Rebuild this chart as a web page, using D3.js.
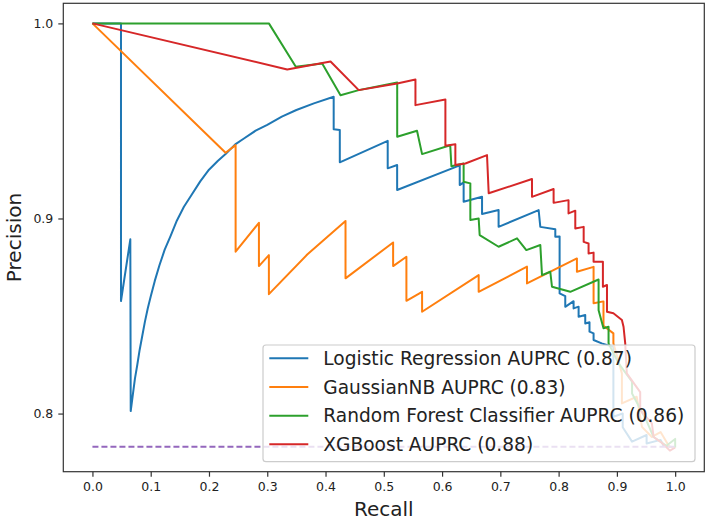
<!DOCTYPE html>
<html>
<head>
<meta charset="utf-8">
<script src="https://cdn.jsdelivr.net/npm/d3@7"></script>
<style>
  html, body { margin: 0; padding: 0; background: #fff; }
  svg { display: block; font-family: "DejaVu Sans", sans-serif; }
</style>
</head>
<body>
<svg id="chart" width="709" height="522"></svg>
<script>
// ---------------- data ----------------
const seriesNames = [
  "Logistic Regression AUPRC (0.87)",
  "GaussianNB AUPRC (0.83)",
  "Random Forest Classifier AUPRC (0.86)",
  "XGBoost AUPRC (0.88)"
];
const xTicks = [0.0, 0.1, 0.2, 0.3, 0.4, 0.5, 0.6, 0.7, 0.8, 0.9, 1.0];
const yTicks = [0.8, 0.9, 1.0];
const baselinePrecision = 0.783;

const lrRecall = [0, 0.049, 0.049, 0.065, 0.0657, 0.069, 0.073, 0.077, 0.081, 0.085, 0.09, 0.095, 0.1, 0.107, 0.115, 0.124, 0.134, 0.145, 0.157, 0.17, 0.185, 0.2, 0.215, 0.2285, 0.245, 0.26, 0.28, 0.3, 0.325, 0.35, 0.38, 0.414,
  0.414, 0.4245, 0.4245, 0.5067, 0.5067, 0.5229, 0.5229, 0.6303, 0.6303, 0.637, 0.637, 0.6686, 0.6686, 0.697, 0.697, 0.7657, 0.7686, 0.7943, 0.7943, 0.8017, 0.8017,
  0.8114, 0.8114, 0.8257, 0.8257, 0.8343, 0.8343, 0.8457, 0.8457, 0.853, 0.853, 0.86, 0.86, 0.874, 0.894, 0.894, 0.91, 0.91, 0.926, 0.951, 0.951, 0.975, 0.98, 1.0];
const lrPrecision = [1.0, 1.0, 0.8577, 0.8893, 0.8013, 0.809, 0.818, 0.825, 0.8326, 0.839, 0.847, 0.854, 0.86, 0.868, 0.876, 0.884, 0.891, 0.899, 0.906, 0.912, 0.919, 0.925, 0.9295, 0.933, 0.938, 0.941, 0.945, 0.948, 0.9522, 0.9556, 0.959, 0.9624,
  0.9457, 0.9453, 0.9288, 0.9398, 0.9257, 0.9274, 0.9146, 0.9272, 0.9171, 0.9185, 0.9086, 0.9111, 0.9023, 0.9043, 0.8957, 0.9043, 0.8957, 0.8945, 0.8906, 0.8908, 0.8616,
  0.8602, 0.8547, 0.8576, 0.8539, 0.8548, 0.8496, 0.8505, 0.8462, 0.8468, 0.842, 0.8411, 0.8377, 0.836, 0.8342, 0.7984, 0.8, 0.793, 0.7856, 0.789, 0.7847, 0.7865, 0.7835, 0.7826];

const nbRecall = [0, 0.2285, 0.2457, 0.2457, 0.2857, 0.2857, 0.3028, 0.3028, 0.3686, 0.4343, 0.4343, 0.516, 0.516, 0.5388, 0.5388, 0.5657, 0.5657, 0.6628, 0.6628,
  0.7457, 0.7457, 0.8314, 0.8314, 0.86, 0.86, 0.877, 0.877, 0.894, 0.894, 0.9086, 0.9086, 0.934, 0.943, 0.96, 0.975, 0.99, 1.0];
const nbPrecision = [1.0, 0.9337, 0.9376, 0.883, 0.8978, 0.8756, 0.8812, 0.8612, 0.8815, 0.8987, 0.8693, 0.8877, 0.8756, 0.8804, 0.8578, 0.8624, 0.8522, 0.871, 0.8624,
  0.8753, 0.8667, 0.8795, 0.8727, 0.8752, 0.8565, 0.8575, 0.845, 0.8411, 0.836, 0.8206, 0.8052, 0.8086, 0.7932, 0.788, 0.7905, 0.783, 0.7826];

const rfRecall = [0, 0.3028, 0.349, 0.3943, 0.4257, 0.457, 0.523, 0.523, 0.557, 0.5657, 0.614, 0.616, 0.637, 0.637, 0.6485, 0.6485, 0.6628, 0.6645, 0.697, 0.7286,
  0.7446, 0.7686, 0.7715, 0.7857, 0.7886, 0.82, 0.8686, 0.8686, 0.877, 0.8857, 0.8857, 0.903, 0.926, 0.926, 0.949, 0.963, 0.985, 1.0, 1.0];
const rfPrecision = [1.0, 1.0, 0.9778, 0.9795, 0.9632, 0.9658, 0.9697, 0.9419, 0.945, 0.933, 0.9375, 0.9268, 0.9282, 0.9188, 0.918, 0.8992, 0.9, 0.8915, 0.8855, 0.8898,
  0.8838, 0.8864, 0.871, 0.8727, 0.865, 0.8624, 0.8687, 0.853, 0.8437, 0.8445, 0.836, 0.8257, 0.8163, 0.8103, 0.7975, 0.788, 0.7835, 0.787, 0.7826];

const xgbRecall = [0, 0.3343, 0.4086, 0.457, 0.523, 0.5543, 0.5543, 0.6057, 0.6057, 0.6228, 0.6228, 0.64, 0.6771, 0.68, 0.7543, 0.7543, 0.7914, 0.7914, 0.817, 0.817,
  0.8286, 0.8286, 0.843, 0.843, 0.8514, 0.8514, 0.86, 0.86, 0.876, 0.876, 0.883, 0.883, 0.894, 0.9086, 0.9114, 0.9143, 0.917, 0.94, 0.94, 0.96, 0.963, 0.975, 0.991, 1.0];
const xgbPrecision = [1.0, 0.9764, 0.9805, 0.9658, 0.9692, 0.9712, 0.9581, 0.961, 0.9373, 0.9381, 0.9274, 0.9282, 0.9325, 0.9129, 0.9202, 0.9111, 0.9151, 0.908, 0.9094, 0.9026,
  0.904, 0.8949, 0.8957, 0.888, 0.8872, 0.8821, 0.8825, 0.8778, 0.8778, 0.865, 0.8659, 0.8522, 0.8514, 0.848, 0.8445, 0.836, 0.8206, 0.811, 0.8018, 0.795, 0.788, 0.7855, 0.781, 0.7826];

const seriesColors = ["#1f77b4", "#ff7f0e", "#2ca02c", "#d62728"];
const baselineColor = "#9467bd";

// ---------------- layout ----------------
const svg = d3.select("#chart");
const mLeft = 63.3, mRight = 704.3, mTop = 3.3, mBottom = 471.7;

const x = d3.scaleLinear().domain([-0.05, 1.05]).range([mLeft, mRight]);
const y = d3.scaleLinear().domain([0.7702, 1.0103]).range([mBottom, mTop]);

const series = [
  {recall: lrRecall, precision: lrPrecision},
  {recall: nbRecall, precision: nbPrecision},
  {recall: rfRecall, precision: rfPrecision},
  {recall: xgbRecall, precision: xgbPrecision}
];

const line = d3.line().x(d => x(d[0])).y(d => y(d[1]));

const plot = svg.append("g");
series.forEach((s, i) => {
  const pts = s.recall.map((r, k) => [r, s.precision[k]]);
  plot.append("path")
    .attr("d", line(pts))
    .attr("fill", "none")
    .attr("stroke", seriesColors[i])
    .attr("stroke-width", 2)
    .attr("stroke-linejoin", "round");
});

plot.append("path")
  .attr("d", line([[0, baselinePrecision], [1, baselinePrecision]]))
  .attr("fill", "none")
  .attr("stroke", baselineColor)
  .attr("stroke-width", 2)
  .attr("stroke-dasharray", "6,3");

// ---------------- axes ----------------
const xAxis = d3.axisBottom(x).tickValues(xTicks).tickFormat(d3.format(".1f")).tickSize(5).tickPadding(5);
const yAxis = d3.axisLeft(y).tickValues(yTicks).tickFormat(d3.format(".1f")).tickSize(5).tickPadding(5);

const gx = svg.append("g").attr("transform", `translate(0,${mBottom})`).call(xAxis);
const gy = svg.append("g").attr("transform", `translate(${mLeft},0)`).call(yAxis);
[gx, gy].forEach(g => {
  g.select(".domain").remove();
  g.selectAll(".tick line").attr("stroke", "#333").attr("stroke-width", 1.2);
  g.selectAll(".tick text").attr("fill", "#222").style("font-size", "12.5px").style("font-family", "DejaVu Sans");
});

svg.append("rect")
  .attr("x", mLeft).attr("y", mTop)
  .attr("width", mRight - mLeft).attr("height", mBottom - mTop)
  .attr("fill", "none").attr("stroke", "#333").attr("stroke-width", 1.2);

svg.append("text")
  .attr("x", (mLeft + mRight) / 2).attr("y", 516)
  .attr("text-anchor", "middle")
  .style("font-size", "20px").attr("fill", "#222")
  .text("Recall");

svg.append("text")
  .attr("transform", `translate(21,${(mTop + mBottom) / 2}) rotate(-90)`)
  .attr("text-anchor", "middle")
  .style("font-size", "20px").attr("fill", "#222")
  .text("Precision");

// ---------------- legend ----------------
const lg = svg.append("g");
lg.append("rect")
  .attr("x", 263).attr("y", 345).attr("width", 432).attr("height", 116.7)
  .attr("rx", 3).attr("ry", 3)
  .attr("fill", "#fff").attr("fill-opacity", 0.8)
  .attr("stroke", "#cccccc").attr("stroke-width", 1.2);

const rowY = [358.3, 387, 415.7, 444.3];
seriesNames.forEach((name, i) => {
  lg.append("line")
    .attr("x1", 269.3).attr("x2", 308.3)
    .attr("y1", rowY[i]).attr("y2", rowY[i])
    .attr("stroke", seriesColors[i]).attr("stroke-width", 2);
  lg.append("text")
    .attr("x", 323.3).attr("y", rowY[i]).attr("dy", "0.36em")
    .style("font-size", "18.6px").attr("fill", "#222")
    .text(name);
});
</script>
</body>
</html>
